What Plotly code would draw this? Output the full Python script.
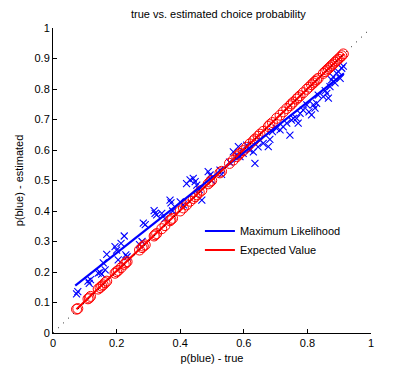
import plotly.graph_objects as go

# true probability, ML estimates (crosses), EV estimates (circles)
p_true = [0.074, 0.078, 0.110, 0.114, 0.118, 0.142, 0.148, 0.153, 0.158, 0.164,
          0.169, 0.195, 0.200, 0.205, 0.214, 0.224, 0.229, 0.233, 0.272, 0.280,
          0.284, 0.290, 0.318, 0.321, 0.326, 0.342, 0.352, 0.368, 0.371, 0.376,
          0.400, 0.410, 0.420, 0.431, 0.441, 0.447, 0.452, 0.460, 0.468, 0.488,
          0.494, 0.499, 0.525, 0.530, 0.555, 0.567, 0.578, 0.583, 0.588, 0.598,
          0.609, 0.619, 0.630, 0.635, 0.645, 0.651, 0.661, 0.677, 0.682, 0.690,
          0.703, 0.714, 0.724, 0.735, 0.745, 0.750, 0.756, 0.766, 0.771, 0.777,
          0.787, 0.798, 0.805, 0.813, 0.819, 0.824, 0.829, 0.834, 0.850, 0.856,
          0.861, 0.866, 0.871, 0.876, 0.881, 0.887, 0.892, 0.897, 0.903, 0.908,
          0.913]
ml_est = [0.128, 0.136, 0.170, 0.163, 0.175, 0.196, 0.199, 0.193, 0.230, 0.207,
          0.258, 0.283, 0.272, 0.240, 0.294, 0.318, 0.256, 0.250, 0.290, 0.300,
          0.360, 0.355, 0.401, 0.392, 0.387, 0.392, 0.375, 0.436, 0.427, 0.400,
          0.430, 0.420, 0.490, 0.502, 0.507, 0.496, 0.485, 0.470, 0.436, 0.529,
          0.518, 0.500, 0.534, 0.520, 0.560, 0.594, 0.584, 0.611, 0.578, 0.589,
          0.616, 0.600, 0.594, 0.556, 0.610, 0.633, 0.622, 0.611, 0.635, 0.660,
          0.671, 0.666, 0.676, 0.688, 0.649, 0.698, 0.704, 0.704, 0.688, 0.720,
          0.731, 0.748, 0.725, 0.715, 0.748, 0.737, 0.753, 0.780, 0.775, 0.795,
          0.786, 0.770, 0.808, 0.830, 0.840, 0.820, 0.851, 0.857, 0.835, 0.868,
          0.875]
ev_est = [0.078, 0.080, 0.112, 0.115, 0.120, 0.144, 0.149, 0.154, 0.158, 0.165,
          0.170, 0.196, 0.201, 0.205, 0.214, 0.225, 0.230, 0.234, 0.272, 0.280,
          0.285, 0.289, 0.318, 0.322, 0.326, 0.342, 0.352, 0.368, 0.372, 0.376,
          0.400, 0.410, 0.420, 0.432, 0.441, 0.447, 0.453, 0.461, 0.468, 0.489,
          0.495, 0.500, 0.525, 0.530, 0.556, 0.567, 0.578, 0.584, 0.589, 0.598,
          0.609, 0.620, 0.630, 0.636, 0.645, 0.652, 0.661, 0.677, 0.683, 0.690,
          0.704, 0.714, 0.725, 0.736, 0.745, 0.751, 0.757, 0.767, 0.772, 0.778,
          0.788, 0.799, 0.806, 0.814, 0.820, 0.825, 0.830, 0.835, 0.851, 0.857,
          0.862, 0.867, 0.872, 0.877, 0.882, 0.888, 0.893, 0.898, 0.904, 0.909,
          0.915]

# fitted lines
ml_fit_x = [0.070, 0.915]
ml_fit_y = [0.155, 0.851]
ev_fit_x = [0.074, 0.915]
ev_fit_y = [0.078, 0.915]

# identity
diag_x = [0, 1]
diag_y = [0, 1]

x_ticks = [0, 0.2, 0.4, 0.6, 0.8, 1]
x_tick_labels = ["0", "0.2", "0.4", "0.6", "0.8", "1"]
y_ticks = [0, 0.1, 0.2, 0.3, 0.4, 0.5, 0.6, 0.7, 0.8, 0.9, 1]
y_tick_labels = ["0", "0.1", "0.2", "0.3", "0.4", "0.5", "0.6", "0.7", "0.8", "0.9", "1"]

BLUE = "#0000FF"
RED = "#FF0000"
FONT = "Liberation Sans, Arial, Helvetica, sans-serif"

fig = go.Figure()

fig.add_trace(go.Scatter(
    x=p_true, y=ml_est, mode="markers", showlegend=False,
    marker=dict(symbol="x-thin-open", size=7, color=BLUE,
                line=dict(color=BLUE, width=1.1)),
    hoverinfo="skip"))

fig.add_trace(go.Scatter(
    x=p_true, y=ev_est, mode="markers", showlegend=False,
    marker=dict(symbol="circle-open", size=10, color=RED,
                line=dict(color=RED, width=1)),
    hoverinfo="skip"))

fig.add_trace(go.Scatter(
    x=ml_fit_x, y=ml_fit_y, mode="lines", name="Maximum Likelihood",
    line=dict(color=BLUE, width=2.2)))

fig.add_trace(go.Scatter(
    x=ev_fit_x, y=ev_fit_y, mode="lines", name="Expected Value",
    line=dict(color=RED, width=2.2)))

fig.add_trace(go.Scatter(
    x=diag_x, y=diag_y, mode="lines", showlegend=False,
    line=dict(color="black", width=1, dash="1px,6px"),
    hoverinfo="skip"))

axis_common = dict(
    showgrid=False, zeroline=False, showline=True, linecolor="black",
    linewidth=1, ticks="inside", ticklen=4, tickcolor="black",
    tickfont=dict(family=FONT, size=11, color="black"),
    mirror=False, automargin=False,
)

# page body has an 8px default margin, so the figure is sized to fit inside it
fig.update_layout(
    width=402, height=366,
    margin=dict(l=45, r=39, t=20, b=41, autoexpand=False),
    paper_bgcolor="white", plot_bgcolor="white",
    title=dict(text="true vs. estimated choice probability",
               font=dict(family=FONT, size=11, color="black"),
               x=0.52, xanchor="center", xref="paper",
               y=1 - 6 / 366, yref="container", yanchor="middle",
               automargin=False),
    xaxis=dict(range=[0, 1], tickvals=x_ticks, ticktext=x_tick_labels,
               title=dict(text="p(blue) - true", font=dict(family=FONT, size=11, color="black"),
                          standoff=6),
               **axis_common),
    yaxis=dict(range=[0, 1], tickvals=y_ticks, ticktext=y_tick_labels,
               title=dict(text="p(blue) - estimated", font=dict(family=FONT, size=11, color="black"),
                          standoff=8),
               **axis_common),
    legend=dict(x=0.462, y=0.382, xanchor="left", yanchor="top",
                bgcolor="rgba(0,0,0,0)", borderwidth=0,
                font=dict(family=FONT, size=11, color="black"),
                tracegroupgap=0),
    showlegend=True,
)

fig.write_html("out.html")
